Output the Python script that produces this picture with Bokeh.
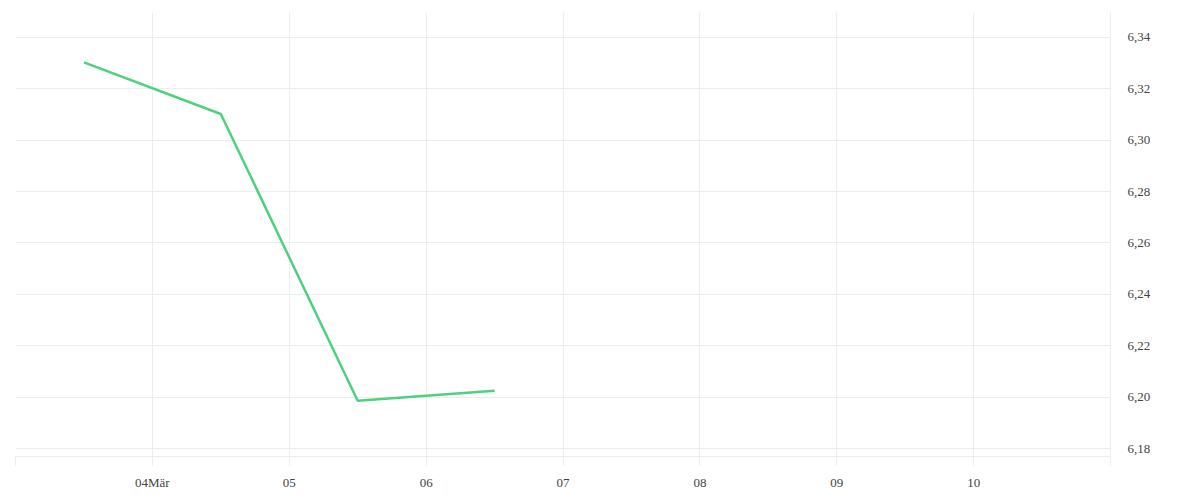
from datetime import datetime
from bokeh.plotting import figure
from bokeh.models import FixedTicker, CustomJSTickFormatter, Range1d
from bokeh.embed import file_html
from bokeh.resources import INLINE


# price per day
dates = [datetime(2024, 3, 3, 12), datetime(2024, 3, 4, 12),
         datetime(2024, 3, 5, 12), datetime(2024, 3, 6, 12)]
values = [6.3303, 6.3102, 6.1986, 6.2025]

tick_days = [datetime(2024, 3, d) for d in range(3, 12)]
tick_labels = ["", "04Mär", "05", "06", "07", "08", "09", "10", ""]
y_ticks = [6.18, 6.20, 6.22, 6.24, 6.26, 6.28, 6.30, 6.32, 6.34]

epoch = datetime(1970, 1, 1)
tick_ms = [(d - epoch).total_seconds() * 1000 for d in tick_days]

FONT = "Liberation Serif"
GRID = "#ededed"

p = figure(width=1192, height=492, x_axis_type="datetime", y_axis_location="right",
           x_range=Range1d(tick_ms[0], tick_ms[-1]), y_range=Range1d(6.1769, 6.3497),
           output_backend="svg", toolbar_location=None,
           min_border_left=15, min_border_top=12, min_border_right=82, min_border_bottom=34)
p.outline_line_color = None
p.background_fill_color = "white"

p.line(dates, values, line_color="#4cd27c", line_width=2.5)

xa = p.xaxis[0]
xa.ticker = FixedTicker(ticks=tick_ms, minor_ticks=[])
xa.formatter = CustomJSTickFormatter(args=dict(tvals=tick_ms, tlabels=tick_labels), code="""
    const i = tvals.indexOf(tick);
    return i >= 0 ? tlabels[i] : "";
""")
xa.axis_line_color = GRID
xa.major_tick_line_color = GRID
xa.major_tick_in = 0
xa.major_tick_out = 9
xa.minor_tick_line_color = None
xa.major_label_standoff = 9

ya = p.yaxis[0]
ya.ticker = FixedTicker(ticks=y_ticks, minor_ticks=[])
ya.formatter = CustomJSTickFormatter(code="return tick.toFixed(2).replace('.', ',');")
ya.axis_line_color = GRID
ya.major_tick_line_color = None
ya.minor_tick_line_color = None
ya.major_tick_out = 0
ya.major_label_standoff = 17

for ax in (xa, ya):
    ax.major_label_text_font = FONT
    ax.major_label_text_font_size = "13px"
    ax.major_label_text_color = "#444444"

p.xgrid.grid_line_color = GRID
p.ygrid.grid_line_color = GRID

open("out.html", "w").write(file_html(p, INLINE))
